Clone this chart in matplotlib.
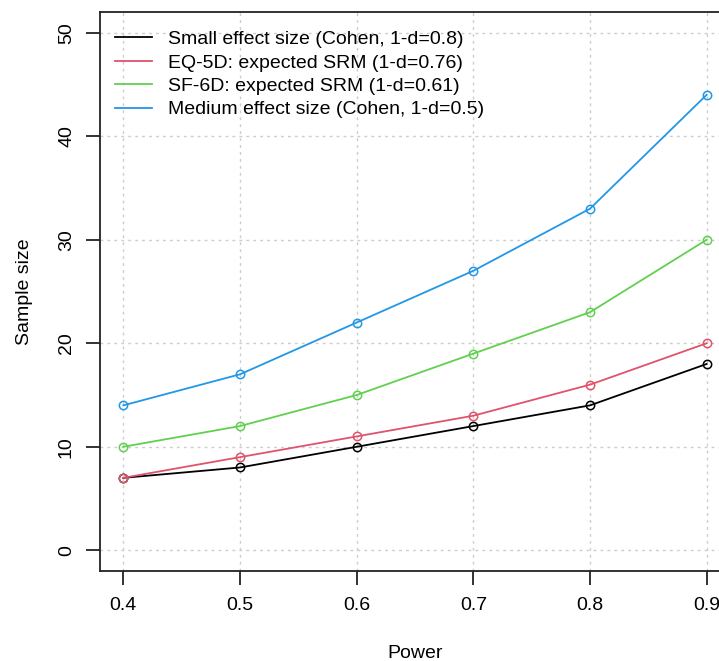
import matplotlib.pyplot as plt

plt.rcParams['font.family'] = ['Liberation Sans', 'DejaVu Sans']

power = [0.4, 0.5, 0.6, 0.7, 0.8, 0.9]
small_effect = [7, 8, 10, 12, 14, 18]
eq5d = [7, 9, 11, 13, 16, 20]
sf6d = [10, 12, 15, 19, 23, 30]
medium_effect = [14, 17, 22, 27, 33, 44]

labels = ["Small effect size (Cohen, 1-d=0.8)",
          "EQ-5D: expected SRM (1-d=0.76)",
          "SF-6D: expected SRM (1-d=0.61)",
          "Medium effect size (Cohen, 1-d=0.5)"]
colors = ["black", "#DF536B", "#61D04F", "#2297E6"]

W, H = 719, 661
fs = 14
fig = plt.figure(figsize=(W / 100, H / 100), dpi=100)
ax = fig.add_axes([100 / W, (H - 571) / H, 630 / W, 559 / H])

for ys, c, lab in zip([small_effect, eq5d, sf6d, medium_effect], colors, labels):
    ax.plot(power, ys, color=c, lw=1.3, marker='o', ms=6, mfc='none',
            mec=c, mew=1.1, label=lab)

ax.set_xlim(0.38, 0.92)
ax.set_ylim(-2, 52)
ax.set_xticks(power)
ax.set_xticklabels([f"{p:.1f}" for p in power])
ax.set_yticks([0, 10, 20, 30, 40, 50])
ax.grid(True, color='#cccccc', linestyle=(0, (2, 3)), lw=1)
ax.set_axisbelow(True)

for s in ax.spines.values():
    s.set_linewidth(1.3)
    s.set_color('#222222')
ax.tick_params(direction='out', length=10, width=1.3, labelsize=fs,
               color='#222222', pad=9)
ax.tick_params(axis='y', labelrotation=90, pad=8)
for t in ax.get_yticklabels():
    t.set_verticalalignment('center')

ax.set_xlabel("Power", fontsize=fs, labelpad=22)
ax.set_ylabel("Sample size", fontsize=fs, labelpad=18)

leg = ax.legend(loc='upper left', bbox_to_anchor=(0.024, 0.967), frameon=False,
                fontsize=fs, handlelength=1.9, handletextpad=0.82,
                labelspacing=0.3, borderaxespad=0, borderpad=0)
for h in leg.legend_handles:
    h.set_marker('')

fig.savefig("out.png", dpi=100)
